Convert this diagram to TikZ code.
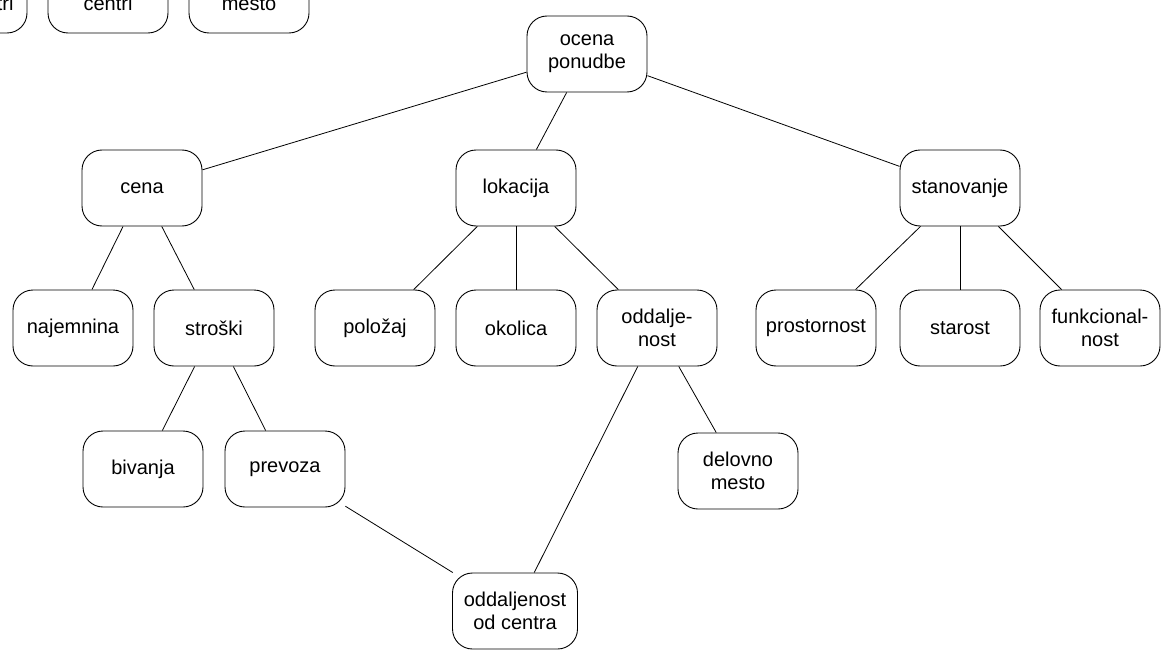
\documentclass[tikz,border=0pt]{standalone}
\usepackage{fontspec}
\setmainfont{Liberation Sans}
\begin{document}
\begin{tikzpicture}[x=1pt,y=-1pt,
  box/.style={draw,line width=0.9pt,rounded corners=20pt,minimum width=120pt,minimum height=76pt,align=center,font=\fontsize{20}{23}\selectfont,inner sep=2pt},
  conn/.style={line width=0.8pt}]
\useasboundingbox (0,0) rectangle (1166,650);
\begin{scope}
\clip (0,0) rectangle (1166,650);
\node[box] (t1) at (-33,-5) {};
\node[anchor=base east,font=\fontsize{20}{23}\selectfont] (t1t) at (17,11) {tri};
\node[box] (t2) at (108,-5) {};
\node[anchor=base,font=\fontsize{20}{23}\selectfont] (t2t) at (108,11) {centri};
\node[box] (t3) at (249,-5) {};
\node[anchor=base,font=\fontsize{20}{23}\selectfont] (t3t) at (249,11) {mesto};
\end{scope}
\node[box] (ocena) at (587,54) {ocena\\ponudbe};
\node[box] (cena) at (142,188) {cena};
\node[box] (lok) at (516,188) {lokacija};
\node[box] (stan) at (960,188) {stanovanje};
\node[box] (naj) at (73,328) {najemnina};
\node[box] (stro) at (214,328) {stroški};
\node[box] (pol) at (375,328) {položaj};
\node[box] (oko) at (516,328) {okolica};
\node[box] (odd) at (657,328) {oddalje-\\nost};
\node[box] (pros) at (816,328) {prostornost};
\node[box] (star) at (960,328) {starost};
\node[box] (funk) at (1100,328) {funkcional-\\nost};
\node[box] (biv) at (143,469) {bivanja};
\node[box] (prev) at (285,469) {prevoza};
\node[box] (del) at (738,471) {delovno\\mesto};
\node[box,minimum width=125pt] (oddc) at (515,611) {oddaljenost\\od centra};
\draw[conn] (ocena) -- (cena);
\draw[conn] (ocena) -- (lok);
\draw[conn] (ocena) -- (stan);
\draw[conn] (cena) -- (naj);
\draw[conn] (cena) -- (stro);
\draw[conn] (lok) -- (pol);
\draw[conn] (lok) -- (oko);
\draw[conn] (lok) -- (odd);
\draw[conn] (stan) -- (pros);
\draw[conn] (stan) -- (star);
\draw[conn] (stan) -- (funk);
\draw[conn] (stro) -- (biv);
\draw[conn] (stro) -- (prev);
\draw[conn] (odd) -- (del);
\draw[conn] (odd) -- (oddc);
\draw[conn] (prev) -- (oddc);
\end{tikzpicture}
\end{document}
